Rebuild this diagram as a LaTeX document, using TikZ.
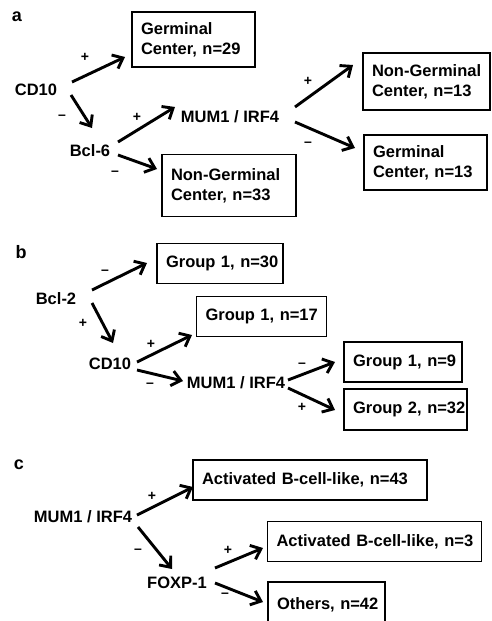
\documentclass[tikz,border=0pt]{standalone}
\usepackage{fontspec}
\setmainfont{Liberation Sans}
\usetikzlibrary{arrows.meta}
\begin{document}
\begin{tikzpicture}[x=1pt,y=-1pt,
  txt/.style={font=\fontsize{16.5}{20}\selectfont\bfseries, inner sep=0pt},
  box/.style={draw, line width=1.4pt, font=\fontsize{16.5}{20}\selectfont\bfseries,
    align=left, inner xsep=9pt, inner ysep=0pt},
  sgn/.style={font=\fontsize{14}{14}\selectfont\bfseries, inner sep=0pt},
  panel/.style={font=\fontsize{18}{18}\selectfont\bfseries, inner sep=0pt},
  arr/.style={line width=2.9pt, -{Straight Barb[length=9pt,width=15pt]}}]
\useasboundingbox (0,0) rectangle (491,621);
% ---------- panel a
\node[panel] (pa) at (17,17) {a};
\node[txt] (cda) at (36,90) {CD10};
\node[txt] (bcl6) at (90,151) {Bcl-6};
\node[txt] (muma) at (230,117) {MUM1 / IRF4};
\node[box, minimum width=123, minimum height=55, text width=105] (gc29) at (193.5,39.5)
  {\mbox{Germinal}\\\mbox{Center, n=29}};
\node[box, minimum width=134, minimum height=62, text width=116] (ngc33) at (229,185.5)
  {\mbox{Non-Germinal}\\\mbox{Center, n=33}};
\node[box, minimum width=125, minimum height=57, text width=109] (ngc13) at (426.5,81.5)
  {\mbox{Non-Germinal}\\\mbox{Center, n=13}};
\node[box, minimum width=123, minimum height=55, text width=105] (gc13) at (425.5,162.5)
  {\mbox{Germinal}\\\mbox{Center, n=13}};
\draw[arr] ([shift={(36,-8)}]cda.center) -- ([shift={(-68.5,17.5)}]gc29.center);
\draw[arr] ([shift={(35,5)}]cda.center) -- ([shift={(2,-23)}]bcl6.center);
\draw[arr] ([shift={(28,-9)}]bcl6.center) -- ([shift={(-55,-10)}]muma.center);
\draw[arr] ([shift={(28,4)}]bcl6.center) -- ([shift={(-72,-16.5)}]ngc33.center);
\draw[arr] ([shift={(65,-10)}]muma.center) -- ([shift={(-73.5,-16.5)}]ngc13.center);
\draw[arr] ([shift={(65,5)}]muma.center) -- ([shift={(-70.5,-14.5)}]gc13.center);
\node[sgn] (sa1) at (85,57) {+};
\node[sgn] (sa2) at (62,117) {–};
\node[sgn] (sa3) at (137,117) {+};
\node[sgn] (sa4) at (115,173) {–};
\node[sgn] (sa5) at (308,81) {+};
\node[sgn] (sa6) at (308,144) {–};
% ---------- panel b
\node[panel] (pb) at (21,252) {b};
\node[txt] (bcl2) at (56,299) {Bcl-2};
\node[txt] (cdb) at (110,364) {CD10};
\node[txt] (mumb) at (236,383) {MUM1 / IRF4};
\node[box, minimum width=126, minimum height=40, text width=108] (g30) at (220,263.5) {\mbox{Group 1, n=30}};
\node[box, minimum width=130, minimum height=40, text width=112] (g17) at (261.5,316.5) {\mbox{Group 1, n=17}};
\node[box, minimum width=118, minimum height=40, text width=100] (g9) at (403,362) {\mbox{Group 1, n=9}};
\node[box, minimum width=123, minimum height=41, text width=105] (g32) at (405.5,409.5) {\mbox{Group 2, n=32}};
\draw[arr] ([shift={(36,-9)}]bcl2.center) -- ([shift={(-73,-0.5)}]g30.center);
\draw[arr] ([shift={(36,4)}]bcl2.center) -- ([shift={(3,-21)}]cdb.center);
\draw[arr] ([shift={(27,-2)}]cdb.center) -- ([shift={(-69.5,18.5)}]g17.center);
\draw[arr] ([shift={(27,6)}]cdb.center) -- ([shift={(-53,-2)}]mumb.center);
\draw[arr] ([shift={(52,-3)}]mumb.center) -- ([shift={(-68,0)}]g9.center);
\draw[arr] ([shift={(52,5)}]mumb.center) -- ([shift={(-70.5,0.5)}]g32.center);
\node[sgn] (sb1) at (105,272) {–};
\node[sgn] (sb2) at (83,323) {+};
\node[sgn] (sb3) at (151,344) {+};
\node[sgn] (sb4) at (150,385) {–};
\node[sgn] (sb5) at (302,365) {–};
\node[sgn] (sb6) at (302,407) {+};
% ---------- panel c
\node[panel] (pc) at (19,465) {c};
\node[txt] (mumc) at (83,517) {MUM1 / IRF4};
\node[txt] (foxp) at (177,583) {FOXP-1};
\node[box, minimum width=234, minimum height=40, text width=216] (abc43) at (310,480) {\mbox{Activated B-cell-like, n=43}};
\node[box, minimum width=214, minimum height=40, text width=196] (abc3) at (374.5,541.5) {\mbox{Activated B-cell-like, n=3}};
\node[box, minimum width=117, minimum height=46, text width=99] (oth) at (326.5,605) {\mbox{Others, n=42}};
\draw[arr] ([shift={(54,-2)}]mumc.center) -- ([shift={(-117,7)}]abc43.center);
\draw[arr] ([shift={(55,10)}]mumc.center) -- ([shift={(-5,-14)}]foxp.center);
\draw[arr] ([shift={(38,-15)}]foxp.center) -- ([shift={(-111.5,6.5)}]abc3.center);
\draw[arr] ([shift={(38,0)}]foxp.center) -- ([shift={(-63.5,-3)}]oth.center);
\node[sgn] (sc1) at (152,496) {+};
\node[sgn] (sc2) at (138,551) {–};
\node[sgn] (sc3) at (228,550) {+};
\node[sgn] (sc4) at (225,595) {–};
\end{tikzpicture}
\end{document}
